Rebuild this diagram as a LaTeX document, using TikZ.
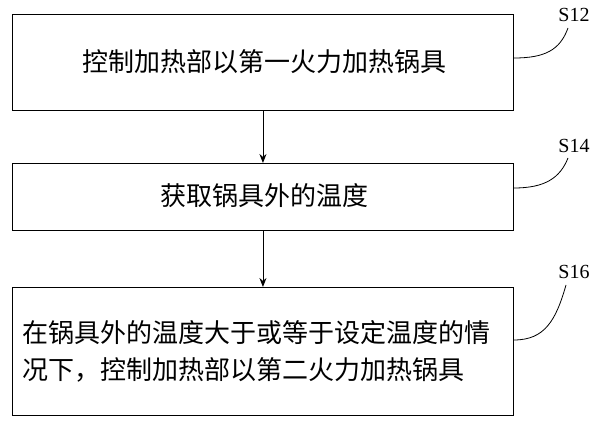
\documentclass[tikz,border=0pt]{standalone}
\usetikzlibrary{arrows.meta}
\usepackage{fontspec}
\newfontfamily\cjk{Noto Sans CJK SC}
\setmainfont{Liberation Serif}
\begin{document}
\begin{tikzpicture}[x=1pt,y=-1pt,
  box/.style={draw,line width=0.9pt,minimum width=501pt,anchor=north west,inner sep=0pt},
  txt/.style={font=\cjk\fontsize{26}{37}\selectfont},
  lab/.style={font=\fontsize{20}{22}\selectfont},
  arr/.style={-{Stealth[length=9pt,width=7pt]},line width=0.9pt}]
\useasboundingbox (0,0) rectangle (600,425);
\node[box,minimum height=96pt] (b1) at (12,14) {};
\node[box,minimum height=67pt] (b2) at (12,163) {};
\node[box,minimum height=128pt] (b3) at (12,287) {};
\node[txt] (t1) at (264,62) {控制加热部以第一火力加热锅具};
\node[txt] (t2) at (264,196) {获取锅具外的温度};
\node[txt,align=left,anchor=west,inner sep=0pt] (t3) at (22,351) {在锅具外的温度大于或等于设定温度的情\\况下，控制加热部以第二火力加热锅具};
\node[lab] (s1) at (574,15) {S12};
\node[lab] (s2) at (574,146) {S14};
\node[lab] (s3) at (574,272) {S16};
\draw[arr] (b1.south) -- (b2.north);
\draw[arr] (b2.south) -- (b3.north);
\coordinate (c1) at (b1.east |- 0,58);
\coordinate (c2) at (b2.east |- 0,188);
\coordinate (c3) at (b3.east |- 0,340);
\draw[line width=0.8pt] (c1) .. controls (545,58) and (560,50) .. (568,28);
\draw[line width=0.8pt] (c2) .. controls (545,188) and (560,178) .. (568,158);
\draw[line width=0.8pt] (c3) .. controls (545,340) and (556,320) .. (566,285);
\end{tikzpicture}
\end{document}
